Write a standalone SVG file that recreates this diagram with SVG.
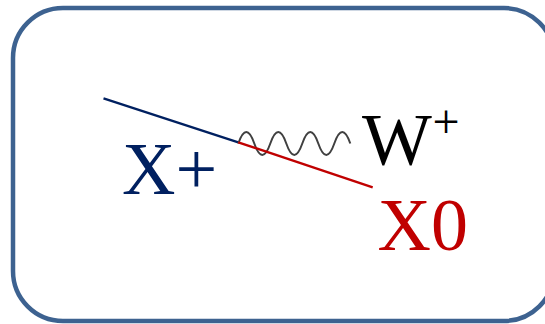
<svg xmlns="http://www.w3.org/2000/svg" width="545" height="324" viewBox="0 0 545 324">
<style>
.lbl{font-family:"Liberation Serif","Times New Roman",serif;font-size:74px}
</style>
<rect width="545" height="324" fill="#ffffff"/>
<g id="frame">
<rect x="13" y="8" width="541" height="313" rx="50" ry="50" fill="none" stroke="#3D6290" stroke-width="4.5"/>
</g>
<g id="connectors">
<line x1="103.5" y1="98.3" x2="238.3" y2="142.3" stroke="#002060" stroke-width="2.4"/>
<path d="M238.3,143.5 q4,-11.5 8,-11.5 t8,11.5 t8,11.5 t8,-11.5 t8,-11.5 t8,11.5 t8,11.5 t8,-11.5 t8,-11.5 t8,11.5 t8,11.5 t8,-11.5 t8,-11.5 t8,11.5" fill="none" stroke="#404040" stroke-width="2"/>
<line x1="238.3" y1="142.3" x2="372.7" y2="187.3" stroke="#C00000" stroke-width="2.4"/>
</g>
<g id="node-xplus">
<text class="lbl" x="122" y="193.5" fill="#002060">X+</text>
</g>
<g id="node-w">
<text class="lbl" x="362" y="165" fill="#000000">W<tspan font-size="48" x="432.5" y="138">+</tspan></text>
</g>
<g id="node-x0">
<text class="lbl" x="377.5" y="249.5" fill="#C00000">X0</text>
</g>
</svg>
